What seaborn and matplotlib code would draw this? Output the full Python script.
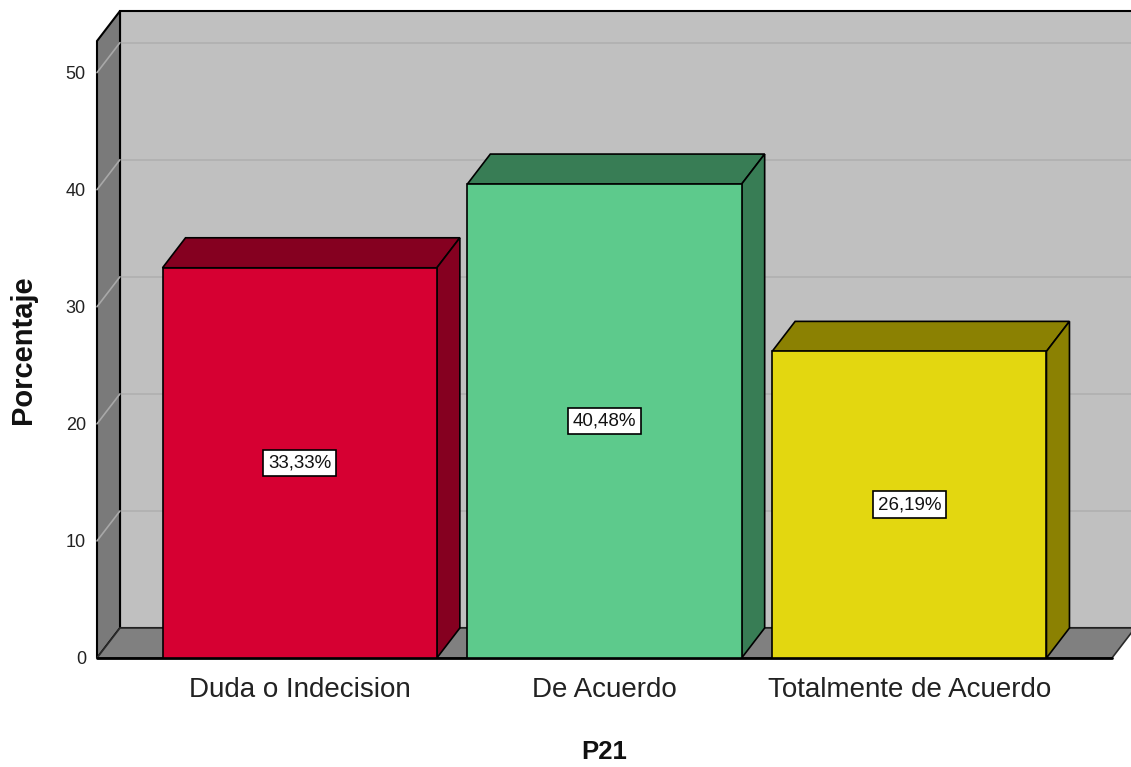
import numpy as np
import matplotlib
matplotlib.use('Agg')
import matplotlib.pyplot as plt
import seaborn as sns
from matplotlib.patches import Polygon, Rectangle

# Data
categorias = ['Duda o Indecision', 'De Acuerdo', 'Totalmente de Acuerdo']
porcentajes = [33.33, 40.48, 26.19]
etiquetas = ['33,33%', '40,48%', '26,19%']
yticks = [0, 10, 20, 30, 40, 50]

# Colours: front face / top+side face
color_frente = ['#D60032', '#5DCA8C', '#E3D710']
color_oscuro = ['#850020', '#387D55', '#8B8102']

sns.set_style('white')
plt.rcParams['font.family'] = ['Liberation Sans', 'DejaVu Sans']

W, H = 1131, 767
fig = plt.figure(figsize=(W / 100, H / 100), dpi=100)
# front plane of the 3D box in pixels: x 97..1112, y 41..658
ax = fig.add_axes([97 / W, (H - 658) / H, (1112 - 97) / W, (658 - 41) / H])

x0, x1 = -0.665, 2.665
ymax = 52.7
# depth offset (pixels) converted to data units
dx = 23 / ((1112 - 97) / (x1 - x0))
dy = 30 / ((658 - 41) / ymax)

# back wall
ax.add_patch(Rectangle((x0 + dx, dy), x1 - x0, ymax, fc='#C0C0C0', ec='black',
                       lw=1.5, zorder=0, clip_on=False))
for v in yticks[1:]:
    ax.plot([x0 + dx, x1 + dx], [v + dy, v + dy], color='#B0B0B0', lw=1.2,
            zorder=0.5, clip_on=False)

# left wall
ax.add_patch(Polygon([(x0, 0), (x0, ymax), (x0 + dx, ymax + dy), (x0 + dx, dy)],
                     closed=True, fc='#7A7A7A', ec='black', lw=1.5, zorder=1,
                     clip_on=False))
for v in yticks[1:]:
    ax.plot([x0, x0 + dx], [v, v + dy], color='#A8A8A8', lw=1.2, zorder=1.1,
            clip_on=False)

# floor
ax.add_patch(Polygon([(x0, 0), (x1, 0), (x1 + dx, dy), (x0 + dx, dy)],
                     closed=True, fc='#808080', ec='#2A2A2A', lw=1.2, zorder=1.2,
                     clip_on=False))
ax.plot([x0, x1], [0, 0], color='black', lw=2, zorder=1.3, clip_on=False)

# front faces through seaborn
sns.barplot(x=categorias, y=porcentajes, hue=categorias, palette=color_frente,
            width=0.9, edgecolor='black', linewidth=1.2, legend=False,
            saturation=1, ax=ax, zorder=3)

# top and side faces of each bar
barras = [b for c in ax.containers for b in c]
for bar, dark in zip(barras, color_oscuro):
    xl = bar.get_x()
    xr = xl + bar.get_width()
    h = bar.get_height()
    top = [(xl, h), (xr, h), (xr + dx, h + dy), (xl + dx, h + dy)]
    side = [(xr, 0), (xr, h), (xr + dx, h + dy), (xr + dx, dy)]
    ax.add_patch(Polygon(top, closed=True, fc=dark, ec='black', lw=1.2, zorder=2.9,
                         clip_on=False))
    ax.add_patch(Polygon(side, closed=True, fc=dark, ec='black', lw=1.2, zorder=2.9,
                         clip_on=False))

for i, (v, lab) in enumerate(zip(porcentajes, etiquetas)):
    ax.text(i, v / 2, lab, ha='center', va='center', fontsize=13.5, color='#111111',
            zorder=5, bbox=dict(boxstyle='square,pad=0.25', fc='white', ec='black', lw=1.2))

ax.set_xlim(x0, x1)
ax.set_ylim(0, ymax)
ax.set_facecolor('none')
for s in ax.spines.values():
    s.set_visible(False)
ax.set_yticks(yticks)
ax.set_yticklabels([str(t) for t in yticks])
ax.tick_params(axis='y', length=0, pad=8, labelsize=13, labelcolor='#222222')
ax.tick_params(axis='x', length=0, pad=14, labelsize=20, labelcolor='#222222')

ax.set_ylabel('Porcentaje', fontsize=21, fontweight='bold', color='#111111')
ax.yaxis.set_label_coords((37 - 97) / 1015, 0.5)
ax.set_xlabel('P21', fontsize=18.5, fontweight='bold', color='#111111')
ax.xaxis.set_label_coords(0.5, -(740 - 658) / 617)

fig.savefig('out.png', dpi=100)
